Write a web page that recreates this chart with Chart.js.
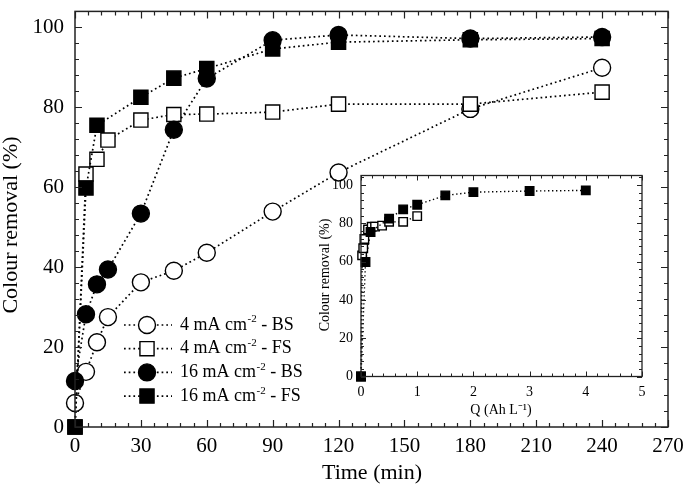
<!DOCTYPE html>
<html>
<head>
<meta charset="utf-8">
<script src="https://cdn.jsdelivr.net/npm/chart.js@4.4.1/dist/chart.umd.min.js"></script>
<style>
  html, body { margin: 0; padding: 0; background: #fff; }
  #wrap { position: relative; width: 685px; height: 491px; }
  #main { position: absolute; left: 0; top: 0; }
  #inset { position: absolute; left: 305px; top: 165px; }
</style>
</head>
<body>
<div id="wrap">
  <canvas id="main" width="685" height="491"></canvas>
  <canvas id="inset" width="345" height="260"></canvas>
</div>
<script>
// ---------- data ----------
const time11 = [0, 5, 10, 15, 30, 45, 60, 90, 120, 180, 240];
const time10 = [0, 5, 10, 30, 45, 60, 90, 120, 180, 240];
const bs4  = [6.0, 13.8, 21.2, 27.5, 36.2, 39.1, 43.6, 53.9, 63.7, 79.6, 89.9];
const fs4  = [0, 63.3, 67.0, 71.8, 76.8, 78.2, 78.3, 78.8, 80.8, 80.8, 83.8];
const bs16 = [11.5, 28.2, 35.7, 39.4, 53.4, 74.4, 87.2, 96.8, 98.1, 97.2, 97.6];
const fs16 = [0, 59.8, 75.5, 82.5, 87.3, 89.7, 94.6, 96.3, 96.9, 97.2];
// inset: charge passed (Ah L-1) for the FS runs
const qFs4  = [0, 0.02, 0.04, 0.06, 0.125, 0.19, 0.25, 0.375, 0.5, 0.75, 1.0];
const qFs16 = [0, 0.08, 0.17, 0.5, 0.75, 1.0, 1.5, 2.0, 3.0, 4.0];

const xTickLabels = [0, 30, 60, 90, 120, 150, 180, 210, 240, 270];
const yTickLabels = [0, 20, 40, 60, 80, 100];
const qTickLabels = [0, 1, 2, 3, 4, 5];

const seriesLabels = [
  ['4 mA cm', '-2', ' - BS'],
  ['4 mA cm', '-2', ' - FS'],
  ['16 mA cm', '-2', ' - BS'],
  ['16 mA cm', '-2', ' - FS']
];
const xTitle = 'Time (min)';
const yTitle = 'Colour removal (%)';
const qTitle = 'Q (Ah L\u207B\u00B9)';

const FONT = "'Liberation Serif', 'Times New Roman', serif";

function pts(xs, ys) { return xs.map((x, i) => ({ x: x, y: ys[i] })); }

function ds(label, data, style, fill, radius, order, bw, dash) {
  return {
    label: label, data: data, showLine: true, order: order, clip: false,
    borderColor: '#000', borderWidth: bw, borderDash: dash, borderCapStyle: 'butt',
    pointStyle: style, pointRadius: radius, pointHoverRadius: radius,
    pointBackgroundColor: fill, pointBorderColor: '#000', pointBorderWidth: 1.4,
    tension: 0, fill: false
  };
}

// ---------- plugin: inward ticks on all four sides + frame ----------
const framePlugin = {
  id: 'frame',
  afterDraw(chart, args, o) {
    const { ctx, chartArea: a, scales: { x, y } } = chart;
    ctx.save();
    ctx.strokeStyle = '#222';
    ctx.lineWidth = o.lw;
    ctx.strokeRect(a.left, a.top, a.right - a.left, a.bottom - a.top);
    ctx.lineWidth = o.tw;
    ctx.beginPath();
    const eps = 1e-6;
    for (let v = x.min; v <= x.max + eps; v += o.xMinor) {
      const major = Math.abs(v / o.xMajor - Math.round(v / o.xMajor)) < 1e-4;
      const L = major ? o.majorLen : o.minorLen;
      const px = Math.round(x.getPixelForValue(v)) + 0.5;
      ctx.moveTo(px, a.bottom); ctx.lineTo(px, a.bottom - L);
      ctx.moveTo(px, a.top); ctx.lineTo(px, a.top + L);
    }
    for (let v = y.min; v <= y.max + eps; v += o.yMinor) {
      const major = Math.abs(v / o.yMajor - Math.round(v / o.yMajor)) < 1e-4;
      const L = major ? o.majorLen : o.minorLen;
      const py = Math.round(y.getPixelForValue(v)) + 0.5;
      ctx.moveTo(a.left, py); ctx.lineTo(a.left + L, py);
      ctx.moveTo(a.right, py); ctx.lineTo(a.right - L, py);
    }
    ctx.stroke();
    // axis titles
    ctx.fillStyle = '#000';
    ctx.font = o.titleSize + 'px ' + FONT;
    ctx.textAlign = 'center';
    ctx.textBaseline = 'middle';
    ctx.fillText(o.xTitle, o.xTitlePos[0], o.xTitlePos[1]);
    ctx.save();
    ctx.translate(o.yTitlePos[0], o.yTitlePos[1]);
    ctx.rotate(-Math.PI / 2);
    ctx.fillText(o.yTitle, 0, 0);
    ctx.restore();
    ctx.restore();
  }
};

// ---------- plugin: legend inside the main plot ----------
const legendPlugin = {
  id: 'innerLegend',
  afterDraw(chart, args, o) {
    if (!o.show) return;
    const { ctx } = chart;
    const dsets = chart.data.datasets;
    ctx.save();
    o.order.forEach((di, row) => {
      const d = dsets[di];
      const y = o.y0 + row * o.dy;
      // dotted line
      ctx.strokeStyle = '#000';
      ctx.lineWidth = d.borderWidth;
      ctx.setLineDash(d.borderDash);
      ctx.lineCap = 'butt';
      ctx.beginPath();
      ctx.moveTo(o.lineX0, y); ctx.lineTo(o.lineX1, y);
      ctx.stroke();
      ctx.setLineDash([]);
      // marker
      ctx.fillStyle = d.pointBackgroundColor;
      ctx.lineWidth = d.pointBorderWidth;
      Chart.helpers.drawPoint(ctx, { pointStyle: d.pointStyle, radius: d.pointRadius, borderWidth: d.pointBorderWidth, rotation: 0 }, o.markerX, y);
      // text with superscript
      const parts = seriesLabels[di];
      ctx.fillStyle = '#000';
      ctx.textBaseline = 'middle';
      ctx.textAlign = 'left';
      let tx = o.textX;
      ctx.font = o.size + 'px ' + FONT;
      ctx.fillText(parts[0], tx, y);
      tx += ctx.measureText(parts[0]).width;
      ctx.font = Math.round(o.size * 0.62) + 'px ' + FONT;
      ctx.fillText(parts[1], tx + 0.5, y - o.size * 0.3);
      tx += ctx.measureText(parts[1]).width + 0.5;
      ctx.font = o.size + 'px ' + FONT;
      ctx.fillText(parts[2], tx, y);
    });
    ctx.restore();
  }
};

function fixScale(w, h) {
  return function (s) {
    if (w !== null) s.width = w;
    if (h !== null) s.height = h;
    s.paddingTop = 0; s.paddingBottom = 0; s.paddingLeft = 0; s.paddingRight = 0;
  };
}

// ---------- main chart ----------
new Chart(document.getElementById('main'), {
  type: 'scatter',
  data: {
    datasets: [
      ds(seriesLabels[0].join(''), pts(time11, bs4),  'circle', '#fff', 8.5, 3, 1.7, [1.7, 3]),
      ds(seriesLabels[1].join(''), pts(time11, fs4),  'rect',   '#fff', 10,  2, 1.7, [1.7, 3]),
      ds(seriesLabels[2].join(''), pts(time11, bs16), 'circle', '#000', 8.5, 1, 1.7, [1.7, 3]),
      ds(seriesLabels[3].join(''), pts(time10, fs16), 'rect',   '#000', 10,  0, 1.7, [1.7, 3])
    ]
  },
  options: {
    responsive: false, animation: false,
    layout: { padding: { left: 0, top: 3, right: 17, bottom: 0 } },
    plugins: {
      legend: { display: false }, tooltip: { enabled: false },
      frame: { lw: 1.5, tw: 1.2, xMinor: 6, xMajor: 30, yMinor: 4, yMajor: 20, majorLen: 7, minorLen: 4,
               titleSize: 22, xTitle: xTitle, yTitle: yTitle, xTitlePos: [372, 473], yTitlePos: [11, 225] },
      innerLegend: { show: true, order: [0, 1, 2, 3], y0: 325, dy: 23.7, lineX0: 124, lineX1: 172, markerX: 147, textX: 180, size: 18 }
    },
    scales: {
      x: {
        type: 'linear', min: 0, max: 270,
        grid: { display: false, drawTicks: false },
        border: { display: false },
        afterFit: fixScale(null, 64),
        afterBuildTicks: (s) => { s.ticks = xTickLabels.map(v => ({ value: v })); },
        ticks: { color: '#000', font: { family: FONT, size: 21 }, padding: 7, maxRotation: 0, autoSkip: false }
      },
      y: {
        type: 'linear', min: 0, max: 104,
        grid: { display: false, drawTicks: false },
        border: { display: false },
        afterFit: fixScale(75, null),
        afterBuildTicks: (s) => { s.ticks = yTickLabels.map(v => ({ value: v })); },
        ticks: { color: '#000', font: { family: FONT, size: 21 }, padding: 11, autoSkip: false }
      }
    }
  },
  plugins: [framePlugin, legendPlugin]
});

// ---------- inset chart ----------
new Chart(document.getElementById('inset'), {
  type: 'scatter',
  data: {
    datasets: [
      ds(seriesLabels[1].join(''), pts(qFs4, fs4),   'rect', '#fff', 6, 1, 1.4, [1.4, 2.6]),
      ds(seriesLabels[3].join(''), pts(qFs16, fs16), 'rect', '#000', 6, 0, 1.4, [1.4, 2.6])
    ]
  },
  options: {
    responsive: false, animation: false,
    layout: { padding: { left: 0, top: 10.5, right: 8, bottom: 0 } },
    plugins: {
      legend: { display: false }, tooltip: { enabled: false },
      frame: { lw: 1.3, tw: 1, xMinor: 0.2, xMajor: 1, yMinor: 4, yMajor: 20, majorLen: 5, minorLen: 3,
               titleSize: 14, xTitle: qTitle, yTitle: yTitle, xTitlePos: [196, 245], yTitlePos: [20, 110] },
      innerLegend: { show: false }
    },
    scales: {
      x: {
        type: 'linear', min: 0, max: 5,
        grid: { display: false, drawTicks: false },
        border: { display: false },
        afterFit: fixScale(null, 48.5),
        afterBuildTicks: (s) => { s.ticks = qTickLabels.map(v => ({ value: v })); },
        ticks: { color: '#000', font: { family: FONT, size: 14 }, padding: 7, maxRotation: 0, autoSkip: false }
      },
      y: {
        type: 'linear', min: 0, max: 105,
        grid: { display: false, drawTicks: false },
        border: { display: false },
        afterFit: fixScale(56, null),
        afterBuildTicks: (s) => { s.ticks = yTickLabels.map(v => ({ value: v })); },
        ticks: { color: '#000', font: { family: FONT, size: 14 }, padding: 8, autoSkip: false }
      }
    }
  },
  plugins: [framePlugin, legendPlugin]
});
</script>
</body>
</html>
